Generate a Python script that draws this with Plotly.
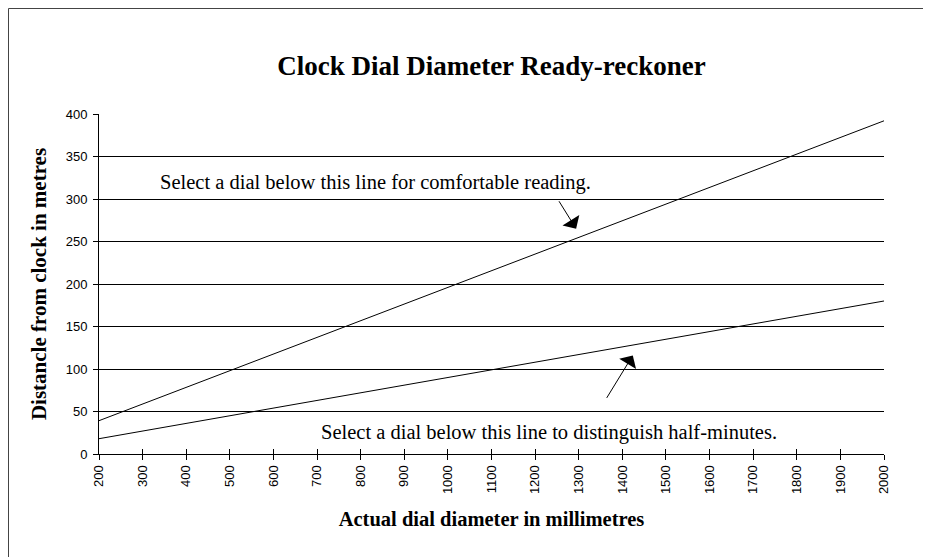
import plotly.graph_objects as go

# Data
diameters = [200, 300, 400, 500, 600, 700, 800, 900, 1000, 1100,
             1200, 1300, 1400, 1500, 1600, 1700, 1800, 1900, 2000]
comfortable = [39.2, 58.8, 78.4, 98.0, 117.6, 137.2, 156.8, 176.4, 196.0, 215.6,
               235.2, 254.8, 274.4, 294.0, 313.6, 333.2, 352.8, 372.4, 392.0]
half_minutes = [18, 27, 36, 45, 54, 63, 72, 81, 90, 99,
                108, 117, 126, 135, 144, 153, 162, 171, 180]
y_ticks = [0, 50, 100, 150, 200, 250, 300, 350, 400]

title_text = "Clock Dial Diameter Ready-reckoner"
x_title = "Actual dial diameter in millimetres"
y_title = "Distancle from clock in metres"
note_upper = "Select a dial below this line for comfortable reading."
note_lower = "Select a dial below this line to distinguish half-minutes."

SERIF = "Liberation Serif, Times New Roman, serif"
SANS = "Liberation Sans, Arial, sans-serif"

# page body has an 8px margin, so figure coords = screen coords - 8
L, T = 91, 106
PW, PH = 785, 340
W, H = 931, 557

fig = go.Figure()
fig.add_trace(go.Scatter(x=diameters, y=comfortable, mode="lines",
                         line=dict(color="black", width=1), hoverinfo="skip",
                         showlegend=False))
fig.add_trace(go.Scatter(x=diameters, y=half_minutes, mode="lines",
                         line=dict(color="black", width=1), hoverinfo="skip",
                         showlegend=False))
# invisible trace to activate the overlay axis (inside tick marks)
fig.add_trace(go.Scatter(x=diameters, y=half_minutes, xaxis="x2", mode="lines",
                         line=dict(width=0), opacity=0, hoverinfo="skip",
                         showlegend=False))

fig.update_layout(
    width=W, height=H,
    margin=dict(l=L, r=W - L - PW, t=T, b=H - T - PH),
    paper_bgcolor="white", plot_bgcolor="white",
    title=dict(text="<b>" + title_text + "</b>", x=0.5, xanchor="center",
               xref="paper", y=1 - 58 / H, yref="container", yanchor="middle",
               font=dict(family=SERIF, size=27, color="black")),
    xaxis=dict(range=[200, 2000], tickmode="array", tickvals=diameters,
               ticktext=[str(d) for d in diameters], tickangle=-90,
               ticks="outside", ticklen=5, tickcolor="black",
               showline=True, linecolor="black", linewidth=1,
               showgrid=False, zeroline=False,
               tickfont=dict(family=SANS, size=13, color="black"),
               title=dict(text="<b>" + x_title + "</b>", standoff=18,
                          font=dict(family=SERIF, size=20.5, color="black"))),
    xaxis2=dict(range=[200, 2000], overlaying="x", anchor="y", side="bottom",
                tickmode="array", tickvals=diameters, ticks="inside",
                ticklen=5, tickcolor="black", showticklabels=False,
                showgrid=False, zeroline=False, showline=False),
    yaxis=dict(range=[0, 400], tickmode="array", tickvals=y_ticks,
               ticks="outside", ticklen=5, tickcolor="black",
               ticklabelstandoff=3,
               showline=True, linecolor="black", linewidth=1,
               showgrid=True, gridcolor="black", gridwidth=1,
               zeroline=False,
               tickfont=dict(family=SANS, size=13, color="black"),
               title=dict(text="<b>" + y_title + "</b>", standoff=13,
                          font=dict(family=SERIF, size=21, color="black"))),
    annotations=[
        dict(x=335, y=320, xref="x", yref="y", text=note_upper,
             showarrow=False, xanchor="left", yanchor="middle",
             font=dict(family=SERIF, size=20.5, color="black")),
        dict(x=704, y=25, xref="x", yref="y", text=note_lower,
             showarrow=False, xanchor="left", yanchor="middle",
             font=dict(family=SERIF, size=20.5, color="black")),
        dict(x=1294, y=265, xref="x", yref="y", text="", showarrow=True,
             ax=-18, ay=-29, arrowhead=1, arrowsize=3.3, arrowwidth=1,
             arrowcolor="black", standoff=0),
        dict(x=1424, y=116, xref="x", yref="y", text="", showarrow=True,
             ax=-27, ay=44, arrowhead=1, arrowsize=3.3, arrowwidth=1,
             arrowcolor="black", standoff=0),
    ],
    shapes=[dict(type="rect", xref="paper", yref="paper",
                 x0=(0.5 - L) / PW, x1=(916 - L) / PW,
                 y0=(T + PH - 570) / PH, y1=(T + PH - 0.5) / PH,
                 line=dict(color="#444444", width=1), layer="below")],
)

fig.write_html("out.html")
